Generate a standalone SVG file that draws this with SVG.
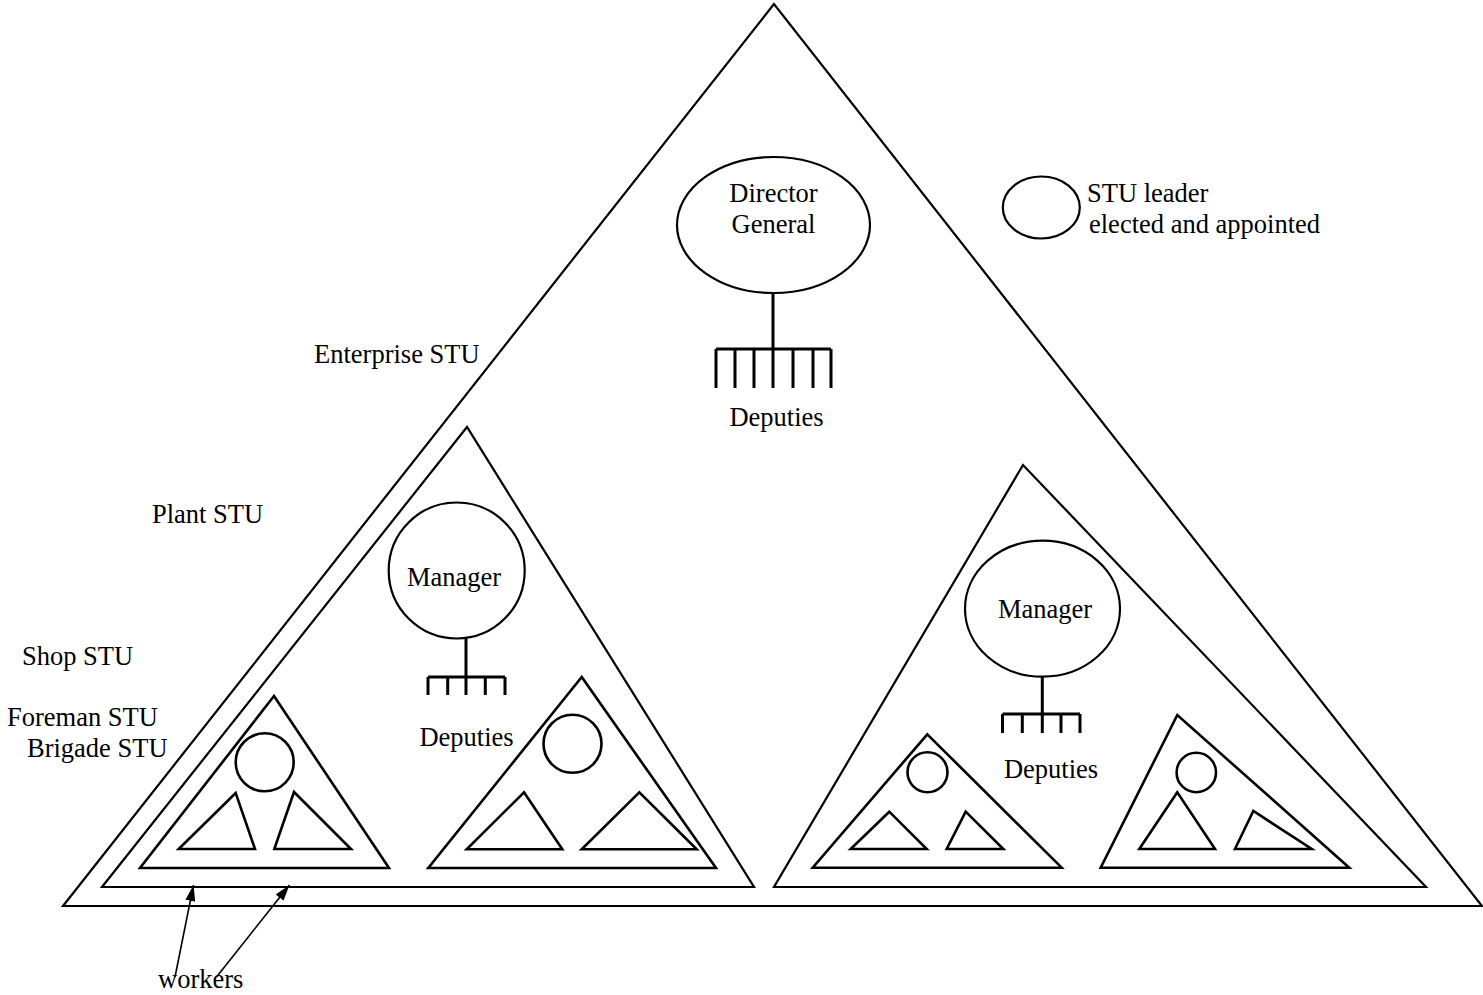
<svg xmlns="http://www.w3.org/2000/svg" width="1483" height="995" viewBox="0 0 1483 995">
<style>
.t{font-family:"Liberation Serif","Times New Roman",serif;font-size:26.5px;fill:#000}
.c{text-anchor:middle}
.big{fill:none;stroke:#000;stroke-width:2.2;stroke-linejoin:miter}
.sm{fill:none;stroke:#000;stroke-width:2.6}
.ov{fill:none;stroke:#000;stroke-width:2.2}
.rk{fill:none;stroke:#000;stroke-width:3}
.ar{fill:none;stroke:#000;stroke-width:1.6}
</style>
<defs>
<marker id="ahb" viewBox="0 0 16 10" refX="16" refY="5" markerWidth="16" markerHeight="10" markerUnits="userSpaceOnUse" orient="auto">
<path d="M0,0 L16,5 L0,10 z" fill="#000"/>
</marker>
</defs>
<rect width="1483" height="995" fill="#fff"/>

<g id="enterprise">
<polygon class="big" points="774,4 63,906 1482,906"/>
<text class="t" x="314" y="363">Enterprise STU</text>
</g>

<g id="director">
<ellipse class="ov" cx="773.5" cy="225" rx="96.5" ry="68"/>
<text class="t c" x="773.5" y="202">Director</text>
<text class="t c" x="773.5" y="233">General</text>
<path class="rk" d="M773,293 V349 M716,349 H831 M716,349 V388 M735,349 V388 M754,349 V388 M773,349 V388 M793,349 V388 M813,349 V388 M831,349 V388"/>
<text class="t c" x="776.5" y="426">Deputies</text>
</g>

<g id="legend">
<ellipse class="ov" cx="1041.3" cy="207.5" rx="38.5" ry="31"/>
<text class="t" x="1087" y="202">STU leader</text>
<text class="t" x="1089" y="233">elected and appointed</text>
</g>

<g id="plant-left">
<polygon class="big" points="467,427 102,887 754,887"/>
<text class="t" x="152" y="523">Plant STU</text>
<circle class="ov" cx="456.7" cy="570.5" r="68"/>
<text class="t c" x="454" y="586">Manager</text>
<path class="rk" d="M466,638 V677 M428,677 H505 M428,677 V695 M447.7,677 V695 M466,677 V695 M485.3,677 V695 M505,677 V695"/>
<text class="t c" x="466.5" y="746">Deputies</text>
</g>

<g id="shop-left-1">
<polygon class="sm" points="274,696 140,868 389,868"/>
<text class="t" x="22" y="665">Shop STU</text>
<circle class="sm" cx="264.7" cy="762.3" r="29"/>
<text class="t" x="7" y="726">Foreman STU</text>
<polygon class="sm" points="235.7,793 178.7,849 255,849"/>
<polygon class="sm" points="294,792 274.3,849 351,849"/>
<text class="t" x="27" y="757">Brigade STU</text>
</g>

<g id="shop-left-2">
<polygon class="sm" points="581.7,677 428.3,868 716,868"/>
<circle class="sm" cx="572.5" cy="743.8" r="29"/>
<polygon class="sm" points="524,792.3 466.7,849.3 562.3,849.3"/>
<polygon class="sm" points="639.3,792.3 581.7,849.3 696.7,849.3"/>
</g>

<g id="plant-right">
<polygon class="big" points="1023,465 774,887 1426,887"/>
<ellipse class="ov" cx="1042.5" cy="608.7" rx="77.5" ry="68"/>
<text class="t c" x="1045" y="618">Manager</text>
<path class="rk" d="M1042.3,677 V714 M1002.5,714 H1080 M1002.5,714 V733 M1022.3,714 V733 M1042.3,714 V733 M1061,714 V733 M1080,714 V733"/>
<text class="t c" x="1051" y="778">Deputies</text>
</g>

<g id="shop-right-1">
<polygon class="sm" points="927.3,734.3 812.7,867.7 1061.7,867.7"/>
<circle class="sm" cx="927.5" cy="772.2" r="20"/>
<polygon class="sm" points="889.3,811.7 850.7,849 926.7,849"/>
<polygon class="sm" points="965.7,811.7 946.7,849 1003.3,849"/>
</g>

<g id="shop-right-2">
<polygon class="sm" points="1177.3,715 1100.7,867.7 1349.3,867.7"/>
<circle class="sm" cx="1196.3" cy="772.5" r="19.7"/>
<polygon class="sm" points="1177.3,792.3 1139.3,849 1215,849"/>
<polygon class="sm" points="1253.3,811 1235,849 1311.7,849"/>
</g>

<g id="workers">
<text class="t" x="158" y="988">workers</text>
</g>

<g id="connectors">
<line class="ar" x1="175" y1="977" x2="193.5" y2="885" marker-end="url(#ahb)"/>
<line class="ar" x1="216.5" y1="977" x2="289.5" y2="885" marker-end="url(#ahb)"/>
</g>
</svg>
